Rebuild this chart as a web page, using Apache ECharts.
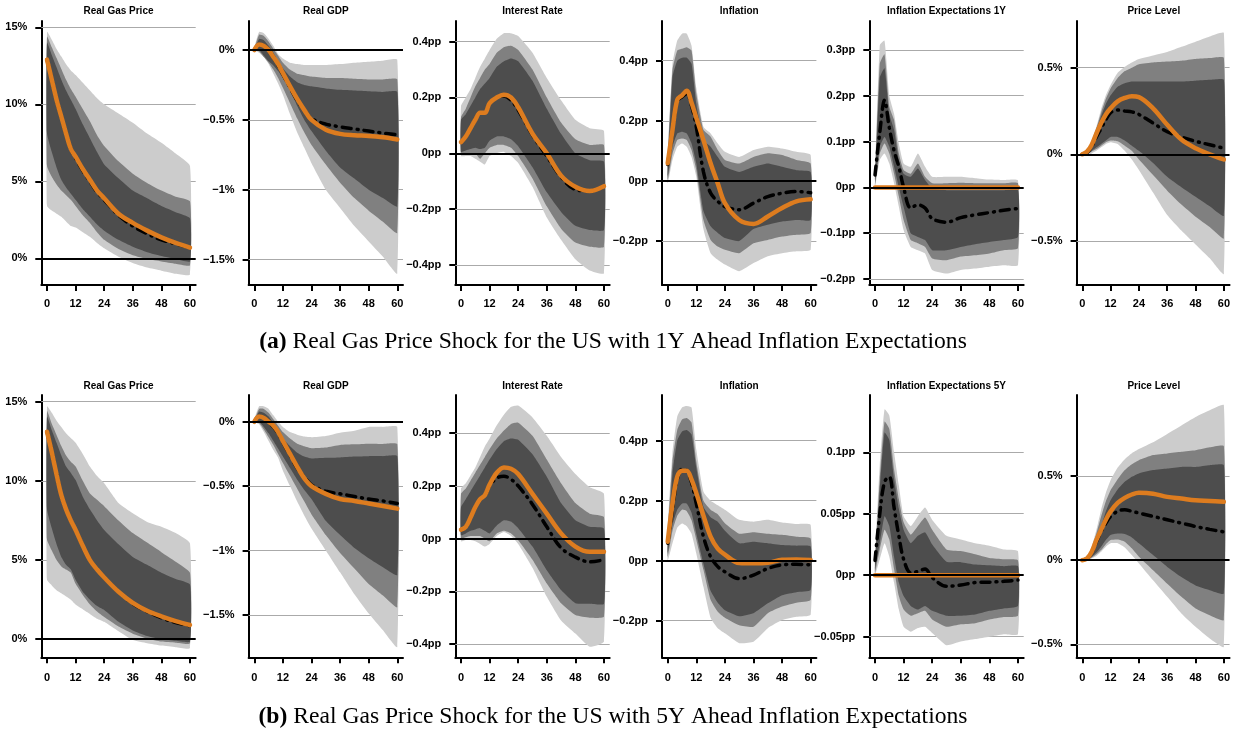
<!DOCTYPE html>
<html><head><meta charset="utf-8">
<script src="https://cdn.jsdelivr.net/npm/echarts@6/dist/echarts.min.js"></script>
<style>html,body{margin:0;padding:0;background:#fff}#c{width:1233px;height:730px}</style>
</head><body><div id="c"></div>
<script>
// ---------- shared ----------
const MONTHS = [0,2,4,6,8,10,12,15,18,21,24,30,36,42,48,54,60];
const X_TICKS = [0,12,24,36,48,60];
const TITLES_A = ['Real Gas Price','Real GDP','Interest Rate','Inflation','Inflation Expectations 1Y','Price Level'];
const TITLES_B = ['Real Gas Price','Real GDP','Interest Rate','Inflation','Inflation Expectations 5Y','Price Level'];
const CAPTION_A = 'Real Gas Price Shock for the US with 1Y Ahead Inflation Expectations';
const CAPTION_B = 'Real Gas Price Shock for the US with 5Y Ahead Inflation Expectations';

// ---------- tick values / labels ----------
const GAS_TICKS = [0,5,10,15];           const GAS_LABELS = ['0%','5%','10%','15%'];
const GDP_TICKS = [-1.5,-1,-0.5,0];      const GDP_LABELS = ['\u22121.5%','\u22121%','\u22120.5%','0%'];
const RATE_TICKS = [-0.4,-0.2,0,0.2,0.4];const RATE_LABELS = ['\u22120.4pp','\u22120.2pp','0pp','0.2pp','0.4pp'];
const INF_TICKS = [-0.2,0,0.2,0.4];      const INF_LABELS = ['\u22120.2pp','0pp','0.2pp','0.4pp'];
const EXP1_TICKS = [-0.2,-0.1,0,0.1,0.2,0.3]; const EXP1_LABELS = ['\u22120.2pp','\u22120.1pp','0pp','0.1pp','0.2pp','0.3pp'];
const EXP5_TICKS = [-0.05,0,0.05,0.1];   const EXP5_LABELS = ['\u22120.05pp','0pp','0.05pp','0.1pp'];
const PL_TICKS = [-0.5,0,0.5];           const PL_LABELS = ['\u22120.5%','0%','0.5%'];

// ---------- (a) 1Y ----------
const A1_orange = [12.9,11.6,10.3,9.2,8.1,7.1,6.6,5.8,5.1,4.4,3.9,2.9,2.3,1.8,1.36,1.0,0.7];
const A1_black  = [12.9,11.6,10.3,9.2,8.1,7.1,6.5,5.7,5.0,4.3,3.8,2.8,2.1,1.6,1.2,0.95,0.7];
const A1_lightHi= [14.7,14.2,13.6,13.1,12.6,12.2,11.9,11.4,10.9,10.4,10.0,9.4,8.8,8.1,7.5,6.8,6.0];
const A1_medHi  = [14.4,13.7,13.0,12.3,11.6,11.0,10.5,9.7,8.9,8.0,7.3,6.3,5.5,4.9,4.4,4.0,3.7];
const A1_darkHi = [14.0,13.2,12.4,11.6,10.9,10.3,9.7,8.7,7.8,6.9,6.1,5.2,4.4,3.9,3.4,3.0,2.6];
const A1_darkLo = [8.1,6.9,5.9,5.1,4.6,4.2,3.8,3.2,2.7,2.2,1.8,1.2,0.75,0.4,0.15,-0.05,-0.2];
const A1_medLo  = [6.0,5.3,4.8,4.4,4.1,3.8,3.4,2.8,2.3,1.7,1.2,0.6,0.2,-0.05,-0.2,-0.35,-0.45];
const A1_lightLo= [3.4,3.1,2.9,2.7,2.4,2.1,2.0,1.7,1.4,1.0,0.65,0.1,-0.3,-0.6,-0.8,-1.0,-1.05];

const A2_orange = [0,0.04,0.03,0.0,-0.05,-0.1,-0.165,-0.26,-0.35,-0.43,-0.5,-0.57,-0.6,-0.61,-0.615,-0.625,-0.64];
const A2_black  = [0,0.04,0.03,0.0,-0.05,-0.11,-0.175,-0.27,-0.36,-0.43,-0.49,-0.53,-0.55,-0.565,-0.58,-0.595,-0.607];
const A2_lightHi= [0.02,0.13,0.12,0.08,0.03,-0.03,-0.06,-0.09,-0.1,-0.107,-0.107,-0.107,-0.1,-0.09,-0.083,-0.076,-0.07];
const A2_medHi  = [0.01,0.11,0.1,0.06,0.01,-0.04,-0.09,-0.14,-0.17,-0.18,-0.19,-0.2,-0.2,-0.205,-0.21,-0.21,-0.21];
const A2_darkHi = [0.0,0.08,0.07,0.03,-0.02,-0.08,-0.13,-0.19,-0.23,-0.25,-0.26,-0.275,-0.285,-0.29,-0.295,-0.3,-0.3];
const A2_darkLo = [0.0,0.0,-0.04,-0.08,-0.11,-0.15,-0.2,-0.29,-0.4,-0.5,-0.58,-0.72,-0.84,-0.92,-1.0,-1.06,-1.12];
const A2_medLo  = [0.0,-0.01,-0.05,-0.09,-0.14,-0.2,-0.27,-0.38,-0.49,-0.59,-0.68,-0.82,-0.95,-1.06,-1.15,-1.23,-1.31];
const A2_lightLo= [0.0,-0.02,-0.05,-0.1,-0.17,-0.24,-0.32,-0.46,-0.59,-0.7,-0.81,-1.0,-1.13,-1.26,-1.37,-1.48,-1.6];

const A3_orange = [0.04,0.06,0.09,0.12,0.145,0.145,0.18,0.2,0.21,0.2,0.165,0.07,0.0,-0.08,-0.12,-0.135,-0.118];
const A3_black  = [0.04,0.06,0.09,0.12,0.145,0.145,0.18,0.2,0.205,0.19,0.155,0.065,-0.01,-0.085,-0.13,-0.135,-0.12];
const A3_lightHi= [0.17,0.2,0.23,0.27,0.31,0.34,0.37,0.41,0.43,0.43,0.42,0.36,0.27,0.19,0.12,0.09,0.08];
const A3_medHi  = [0.13,0.16,0.2,0.24,0.27,0.3,0.32,0.36,0.38,0.385,0.37,0.3,0.2,0.11,0.05,0.03,0.03];
const A3_darkHi = [0.12,0.14,0.17,0.2,0.23,0.25,0.27,0.31,0.33,0.34,0.33,0.26,0.16,0.07,0.0,-0.025,-0.03];
const A3_darkLo = [0.005,0.01,0.015,0.02,0.015,0.02,0.045,0.06,0.06,0.05,0.025,-0.05,-0.14,-0.21,-0.26,-0.275,-0.275];
const A3_medLo  = [-0.005,0.0,0.0,0.0,-0.02,0.0,0.02,0.03,0.03,0.02,-0.01,-0.09,-0.19,-0.27,-0.32,-0.335,-0.335];
const A3_lightLo= [-0.01,-0.01,-0.01,-0.02,-0.03,-0.04,-0.01,0.0,0.005,-0.01,-0.035,-0.12,-0.23,-0.31,-0.38,-0.42,-0.43];

const A4_orange = [0.059,0.17,0.27,0.285,0.3,0.26,0.21,0.136,0.059,-0.008,-0.074,-0.13,-0.143,-0.118,-0.09,-0.068,-0.061];
const A4_black  = [0.055,0.165,0.265,0.28,0.29,0.25,0.18,0.03,-0.04,-0.068,-0.085,-0.096,-0.074,-0.052,-0.041,-0.035,-0.039];
const A4_lightHi= [0.09,0.39,0.467,0.49,0.49,0.45,0.31,0.18,0.158,0.125,0.097,0.08,0.103,0.114,0.108,0.097,0.086];
const A4_medHi  = [0.07,0.37,0.434,0.44,0.445,0.434,0.29,0.17,0.147,0.103,0.07,0.058,0.08,0.092,0.086,0.07,0.058];
const A4_darkHi = [0.036,0.346,0.4,0.41,0.41,0.39,0.257,0.136,0.114,0.08,0.047,0.03,0.047,0.058,0.047,0.036,0.03];
const A4_darkLo = [0.014,0.114,0.158,0.164,0.158,0.125,0.058,-0.1,-0.151,-0.173,-0.19,-0.2,-0.16,-0.146,-0.135,-0.13,-0.13];
const A4_medLo  = [0.003,0.09,0.136,0.141,0.136,0.103,0.036,-0.13,-0.196,-0.218,-0.229,-0.24,-0.207,-0.196,-0.185,-0.179,-0.173];
const A4_lightLo= [-0.008,0.07,0.114,0.125,0.114,0.08,0.014,-0.16,-0.24,-0.262,-0.278,-0.3,-0.273,-0.25,-0.24,-0.234,-0.229];

const A5_orange = [0,0,0,0,0,0,0,0,0,0,0,0,0,0,0,0,0];
const A5_black  = [0.027,0.12,0.19,0.13,0.08,0.045,0.0,-0.045,-0.038,-0.045,-0.068,-0.076,-0.066,-0.06,-0.055,-0.05,-0.046];
const A5_lightHi= [0.023,0.31,0.32,0.2,0.16,0.096,0.052,0.045,0.074,0.045,0.023,0.023,0.023,0.02,0.017,0.016,0.015];
const A5_medHi  = [0.015,0.27,0.29,0.176,0.147,0.074,0.038,0.03,0.052,0.023,0.009,0.009,0.01,0.009,0.009,0.009,0.009];
const A5_darkHi = [0.01,0.24,0.26,0.16,0.125,0.06,0.03,0.023,0.041,0.016,-0.002,-0.006,-0.006,-0.006,-0.006,-0.006,-0.006];
const A5_darkLo = [0.009,0.089,0.11,0.089,0.045,0.0,-0.042,-0.1,-0.108,-0.115,-0.137,-0.137,-0.13,-0.124,-0.119,-0.115,-0.108];
const A5_medLo  = [0.005,0.074,0.096,0.074,0.03,-0.02,-0.071,-0.115,-0.122,-0.13,-0.155,-0.159,-0.151,-0.148,-0.144,-0.137,-0.133];
const A5_lightLo= [0.0,0.06,0.074,0.052,0.009,-0.042,-0.093,-0.13,-0.137,-0.144,-0.18,-0.188,-0.18,-0.177,-0.173,-0.17,-0.17];

const A6_orange = [0,0.015,0.055,0.12,0.18,0.23,0.265,0.305,0.325,0.335,0.33,0.265,0.17,0.085,0.035,0.0,-0.03];
const A6_black  = [0,0.01,0.045,0.1,0.15,0.2,0.24,0.255,0.25,0.245,0.23,0.18,0.13,0.1,0.075,0.055,0.035];
const A6_lightHi= [0,0.02,0.08,0.16,0.26,0.34,0.4,0.47,0.505,0.53,0.55,0.57,0.59,0.62,0.65,0.68,0.7];
const A6_medHi  = [0,0.02,0.07,0.15,0.24,0.32,0.38,0.44,0.48,0.5,0.52,0.53,0.535,0.54,0.55,0.555,0.557];
const A6_darkHi = [0,0.015,0.06,0.14,0.22,0.29,0.34,0.39,0.41,0.42,0.42,0.42,0.42,0.42,0.425,0.43,0.43];
const A6_darkLo = [0,0.0,0.02,0.04,0.06,0.08,0.1,0.1,0.08,0.05,0.02,-0.05,-0.13,-0.19,-0.245,-0.3,-0.355];
const A6_medLo  = [0,0.0,0.015,0.03,0.05,0.07,0.08,0.075,0.05,0.02,-0.03,-0.12,-0.21,-0.29,-0.36,-0.42,-0.485];
const A6_lightLo= [0,-0.005,0.005,0.02,0.04,0.06,0.07,0.06,0.02,-0.03,-0.09,-0.22,-0.35,-0.44,-0.52,-0.6,-0.69];

// ---------- (b) 5Y ----------
const B1_orange = [13.1,11.8,10.4,9.1,8.2,7.5,6.9,5.9,5.0,4.4,3.9,3.0,2.3,1.8,1.45,1.15,0.9];
const B1_black  = [13.1,11.8,10.4,9.1,8.2,7.5,6.9,5.9,5.0,4.4,3.9,3.0,2.25,1.75,1.35,1.05,0.85];
const B1_lightHi= [14.7,14.3,13.8,13.4,13.0,12.7,12.4,11.7,10.9,10.3,9.85,8.6,7.95,7.4,7.1,6.7,6.05];
const B1_medHi  = [14.4,13.6,12.9,12.2,11.6,11.2,10.9,10.0,9.2,8.8,8.4,7.5,6.7,6.1,5.5,4.9,4.2];
const B1_darkHi = [14.05,13.2,12.4,11.6,10.9,10.5,10.05,9.0,8.2,7.5,6.9,6.0,5.2,4.7,4.2,3.8,3.45];
const B1_darkLo = [8.2,7.0,6.0,5.2,4.7,4.4,3.75,3.0,2.5,2.1,1.85,1.1,0.55,0.2,0.0,-0.1,-0.15];
const B1_medLo  = [6.3,5.6,5.0,4.6,4.4,4.2,3.5,2.8,2.2,1.75,1.4,0.8,0.35,0.05,-0.15,-0.22,-0.25];
const B1_lightLo= [3.75,3.4,3.1,2.9,2.7,2.5,2.2,1.9,1.6,1.3,1.1,0.5,-0.05,-0.25,-0.4,-0.5,-0.55];

const B2_orange = [0,0.04,0.03,0.0,-0.03,-0.08,-0.15,-0.25,-0.35,-0.44,-0.5,-0.56,-0.6,-0.615,-0.635,-0.655,-0.675];
const B2_black  = [0,0.04,0.03,0.0,-0.04,-0.09,-0.16,-0.26,-0.36,-0.43,-0.49,-0.54,-0.56,-0.58,-0.6,-0.615,-0.635];
const B2_lightHi= [0.02,0.12,0.12,0.1,0.05,0.0,-0.04,-0.08,-0.1,-0.115,-0.12,-0.11,-0.085,-0.07,-0.04,-0.04,-0.04];
const B2_medHi  = [0.01,0.1,0.1,0.07,0.02,-0.03,-0.08,-0.13,-0.17,-0.19,-0.205,-0.2,-0.18,-0.175,-0.17,-0.172,-0.175];
const B2_darkHi = [0.0,0.08,0.07,0.04,-0.01,-0.07,-0.13,-0.19,-0.24,-0.27,-0.285,-0.28,-0.277,-0.27,-0.267,-0.267,-0.267];
const B2_darkLo = [0.0,0.0,-0.04,-0.09,-0.15,-0.21,-0.27,-0.36,-0.45,-0.53,-0.6,-0.77,-0.88,-0.98,-1.06,-1.13,-1.19];
const B2_medLo  = [0.0,-0.01,-0.06,-0.12,-0.18,-0.25,-0.32,-0.42,-0.52,-0.62,-0.72,-0.88,-1.02,-1.14,-1.26,-1.35,-1.44];
const B2_lightLo= [0.0,-0.02,-0.08,-0.15,-0.22,-0.28,-0.38,-0.5,-0.62,-0.73,-0.83,-1.0,-1.17,-1.34,-1.49,-1.62,-1.75];

const B3_orange = [0.034,0.045,0.08,0.12,0.15,0.165,0.205,0.25,0.27,0.265,0.245,0.17,0.095,0.02,-0.03,-0.05,-0.05];
const B3_black  = [0.034,0.045,0.08,0.12,0.15,0.165,0.2,0.23,0.237,0.225,0.2,0.13,0.045,-0.035,-0.07,-0.088,-0.08];
const B3_lightHi= [0.19,0.21,0.24,0.27,0.31,0.35,0.38,0.43,0.47,0.5,0.505,0.46,0.39,0.31,0.245,0.195,0.17];
const B3_medHi  = [0.17,0.19,0.22,0.25,0.28,0.31,0.34,0.38,0.41,0.435,0.44,0.39,0.3,0.21,0.135,0.095,0.082];
const B3_darkHi = [0.12,0.15,0.18,0.21,0.24,0.27,0.3,0.34,0.37,0.38,0.375,0.32,0.235,0.135,0.07,0.045,0.038];
const B3_darkLo = [0.013,0.02,0.03,0.035,0.04,0.03,0.02,0.05,0.07,0.065,0.04,-0.03,-0.12,-0.195,-0.245,-0.247,-0.247];
const B3_medLo  = [0.0,0.005,0.01,0.01,0.01,0.0,-0.01,0.02,0.03,0.02,-0.006,-0.08,-0.17,-0.245,-0.29,-0.3,-0.295];
const B3_lightLo= [-0.01,-0.005,-0.005,-0.01,-0.02,-0.03,-0.02,0.01,0.025,0.01,-0.02,-0.11,-0.22,-0.31,-0.36,-0.41,-0.39];

const B4_orange = [0.063,0.19,0.28,0.3,0.3,0.27,0.225,0.15,0.08,0.04,0.02,-0.008,-0.009,-0.007,0.003,0.004,0.002];
const B4_black  = [0.058,0.17,0.27,0.305,0.3,0.26,0.19,0.08,0.013,-0.02,-0.037,-0.06,-0.048,-0.026,-0.014,-0.012,-0.014];
const B4_lightHi= [0.11,0.36,0.48,0.51,0.515,0.51,0.37,0.23,0.2,0.185,0.17,0.136,0.13,0.136,0.127,0.122,0.119];
const B4_medHi  = [0.09,0.33,0.435,0.47,0.475,0.46,0.33,0.2,0.17,0.155,0.125,0.09,0.095,0.09,0.086,0.08,0.074];
const B4_darkHi = [0.047,0.29,0.4,0.43,0.435,0.42,0.31,0.18,0.145,0.13,0.1,0.058,0.063,0.058,0.052,0.05,0.047];
const B4_darkLo = [0.024,0.12,0.17,0.19,0.19,0.16,0.09,-0.01,-0.1,-0.14,-0.165,-0.185,-0.175,-0.142,-0.115,-0.105,-0.098];
const B4_medLo  = [0.013,0.1,0.15,0.17,0.165,0.135,0.07,-0.03,-0.13,-0.17,-0.19,-0.215,-0.22,-0.175,-0.153,-0.14,-0.13];
const B4_lightLo= [0.0,0.058,0.11,0.124,0.115,0.09,0.024,-0.087,-0.19,-0.225,-0.242,-0.275,-0.27,-0.225,-0.198,-0.187,-0.18];

const B5_orange = [0,0,0,0,0,0,0,0,0,0,0,0,0,0,0,0,0];
const B5_black  = [0.012,0.05,0.076,0.08,0.055,0.032,0.013,0.002,0.003,0.005,-0.002,-0.009,-0.008,-0.006,-0.0057,-0.005,-0.004];
const B5_lightHi= [0.015,0.09,0.135,0.13,0.1,0.073,0.048,0.04,0.048,0.055,0.045,0.032,0.029,0.026,0.024,0.021,0.0196];
const B5_medHi  = [0.012,0.078,0.125,0.119,0.086,0.062,0.043,0.033,0.04,0.047,0.037,0.021,0.0196,0.017,0.014,0.013,0.012];
const B5_darkHi = [0.008,0.07,0.116,0.11,0.078,0.054,0.037,0.026,0.032,0.035,0.025,0.011,0.0106,0.0087,0.008,0.0073,0.0073];
const B5_darkLo = [0.005,0.026,0.048,0.04,0.015,-0.006,-0.017,-0.025,-0.028,-0.025,-0.029,-0.033,-0.033,-0.032,-0.029,-0.027,-0.025];
const B5_medLo  = [0.002,0.021,0.037,0.029,0.005,-0.017,-0.028,-0.033,-0.031,-0.029,-0.036,-0.042,-0.04,-0.039,-0.036,-0.034,-0.033];
const B5_lightLo= [0.0,0.013,0.026,0.015,-0.006,-0.028,-0.042,-0.046,-0.043,-0.042,-0.047,-0.057,-0.054,-0.052,-0.05,-0.048,-0.048];

const B6_orange = [0,0.01,0.05,0.12,0.18,0.24,0.29,0.34,0.37,0.39,0.4,0.395,0.376,0.366,0.356,0.352,0.347];
const B6_black  = [0,0.01,0.045,0.11,0.17,0.22,0.26,0.29,0.3,0.29,0.28,0.26,0.24,0.22,0.2,0.183,0.168];
const B6_lightHi= [0,0.02,0.08,0.18,0.3,0.4,0.475,0.55,0.6,0.635,0.66,0.7,0.75,0.8,0.85,0.89,0.92];
const B6_medHi  = [0,0.015,0.07,0.16,0.26,0.35,0.415,0.48,0.535,0.57,0.594,0.624,0.634,0.644,0.653,0.67,0.677];
const B6_darkHi = [0,0.01,0.06,0.13,0.2,0.29,0.356,0.42,0.465,0.495,0.515,0.535,0.545,0.554,0.554,0.564,0.564];
const B6_darkLo = [0,0.005,0.02,0.045,0.08,0.12,0.15,0.158,0.155,0.135,0.1,0.03,-0.04,-0.1,-0.15,-0.178,-0.198];
const B6_medLo  = [0,0.003,0.015,0.035,0.06,0.095,0.12,0.123,0.11,0.07,0.02,-0.06,-0.14,-0.218,-0.287,-0.327,-0.356];
const B6_lightLo= [0,0.0,0.01,0.025,0.05,0.08,0.1,0.1,0.075,0.03,-0.02,-0.12,-0.218,-0.317,-0.396,-0.465,-0.515];

// ---------- panel table (built from the arrays) ----------
const PANELS = [
  {row:0,col:0,title:TITLES_A[0],min:-1.73,max:15.41,ticks:GAS_TICKS,labels:GAS_LABELS,bands:[[A1_lightLo,A1_lightHi],[A1_medLo,A1_medHi],[A1_darkLo,A1_darkHi]],black:A1_black,orange:A1_orange},
  {row:0,col:1,title:TITLES_A[1],min:-1.682,max:0.208,ticks:GDP_TICKS,labels:GDP_LABELS,bands:[[A2_lightLo,A2_lightHi],[A2_medLo,A2_medHi],[A2_darkLo,A2_darkHi]],black:A2_black,orange:A2_orange},
  {row:0,col:2,title:TITLES_A[2],min:-0.472,max:0.474,ticks:RATE_TICKS,labels:RATE_LABELS,bands:[[A3_lightLo,A3_lightHi],[A3_medLo,A3_medHi],[A3_darkLo,A3_darkHi]],black:A3_black,orange:A3_orange},
  {row:0,col:3,title:TITLES_A[3],min:-0.346,max:0.532,ticks:INF_TICKS,labels:INF_LABELS,bands:[[A4_lightLo,A4_lightHi],[A4_medLo,A4_medHi],[A4_darkLo,A4_darkHi]],black:A4_black,orange:A4_orange},
  {row:0,col:4,title:TITLES_A[4],min:-0.213,max:0.363,ticks:EXP1_TICKS,labels:EXP1_LABELS,bands:[[A5_lightLo,A5_lightHi],[A5_medLo,A5_medHi],[A5_darkLo,A5_darkHi]],black:A5_black,orange:A5_orange},
  {row:0,col:5,title:TITLES_A[5],min:-0.754,max:0.769,ticks:PL_TICKS,labels:PL_LABELS,bands:[[A6_lightLo,A6_lightHi],[A6_medLo,A6_medHi],[A6_darkLo,A6_darkHi]],black:A6_black,orange:A6_orange},
  {row:1,col:0,title:TITLES_B[0],min:-1.14,max:15.42,ticks:GAS_TICKS,labels:GAS_LABELS,bands:[[B1_lightLo,B1_lightHi],[B1_medLo,B1_medHi],[B1_darkLo,B1_darkHi]],black:B1_black,orange:B1_orange},
  {row:1,col:1,title:TITLES_B[1],min:-1.83,max:0.208,ticks:GDP_TICKS,labels:GDP_LABELS,bands:[[B2_lightLo,B2_lightHi],[B2_medLo,B2_medHi],[B2_darkLo,B2_darkHi]],black:B2_black,orange:B2_orange},
  {row:1,col:2,title:TITLES_B[2],min:-0.45,max:0.545,ticks:RATE_TICKS,labels:RATE_LABELS,bands:[[B3_lightLo,B3_lightHi],[B3_medLo,B3_medHi],[B3_darkLo,B3_darkHi]],black:B3_black,orange:B3_orange},
  {row:1,col:3,title:TITLES_B[3],min:-0.322,max:0.552,ticks:INF_TICKS,labels:INF_LABELS,bands:[[B4_lightLo,B4_lightHi],[B4_medLo,B4_medHi],[B4_darkLo,B4_darkHi]],black:B4_black,orange:B4_orange},
  {row:1,col:4,title:TITLES_B[4],min:-0.0668,max:0.1466,ticks:EXP5_TICKS,labels:EXP5_LABELS,bands:[[B5_lightLo,B5_lightHi],[B5_medLo,B5_medHi],[B5_darkLo,B5_darkHi]],black:B5_black,orange:B5_orange},
  {row:1,col:5,title:TITLES_B[5],min:-0.577,max:0.981,ticks:PL_TICKS,labels:PL_LABELS,bands:[[B6_lightLo,B6_lightHi],[B6_medLo,B6_medHi],[B6_darkLo,B6_darkHi]],black:B6_black,orange:B6_orange}
];

const LEFTS = [41.3,248.6,455.3,662,869.3,1076.6];
const W = 154.4;
const ROWS = [{top:21,h:264,titleTop:5,xMargin:13},{top:395,h:262.3,titleTop:380,xMargin:15}];
const BAND_COLORS = ['#cccccc','#808080','#4d4d4d'];
const FONT = 'Liberation Sans';

const grids=[], xAxes=[], yAxes=[], series=[], titles=[];
PANELS.forEach((p,i)=>{
  const row = ROWS[p.row], left = LEFTS[p.col];
  grids.push({left:left, top:row.top, width:W, height:row.h, containLabel:false});
  xAxes.push({type:'value', gridIndex:i, min:-2.4, max:62.4,
    axisLine:{show:true,onZero:false,lineStyle:{color:'#000',width:2}},
    axisTick:{show:true,customValues:X_TICKS,length:6,lineStyle:{color:'#000',width:2}},
    axisLabel:{show:true,customValues:X_TICKS,margin:row.xMargin,color:'#000',fontSize:11,fontWeight:'bold',fontFamily:FONT},
    splitLine:{show:false}});
  yAxes.push({type:'value', gridIndex:i, min:p.min, max:p.max,
    axisLine:{show:true,onZero:false,lineStyle:{color:'#000',width:2}},
    axisTick:{show:true,customValues:p.ticks,length:6,lineStyle:{color:'#000',width:2}},
    axisLabel:{show:true,customValues:p.ticks,margin:14,color:'#000',fontSize:11,fontWeight:'bold',fontFamily:FONT,
      formatter:(v)=>{const k=p.ticks.findIndex(t=>Math.abs(t-v)<1e-9);return k>=0?p.labels[k]:'';}},
    splitLine:{show:false}});
  titles.push({text:p.title,left:left+W/2,top:row.titleTop,textAlign:'center',padding:0,
    textStyle:{fontSize:10,fontWeight:'bold',fontFamily:FONT,color:'#000',lineHeight:12}});

  p.bands.forEach((b,k)=>{
    const lo=b[0], hi=b[1];
    series.push({type:'custom', xAxisIndex:i, yAxisIndex:i, z:2, silent:true, clip:true,
      data: MONTHS.map((m,j)=>[m,lo[j],hi[j]]),
      renderItem:(params,api)=>{
        if(params.dataIndex!==0) return null;
        const pts=[];
        for(let j=0;j<MONTHS.length;j++) pts.push(api.coord([MONTHS[j],hi[j]]));
        for(let j=MONTHS.length-1;j>=0;j--) pts.push(api.coord([MONTHS[j],lo[j]]));
        return {type:'polygon', z2:k, shape:{points:pts, smooth:0.15}, style:{fill:BAND_COLORS[k]}};
      }});
  });
  const gridVals = p.ticks.filter(t=>t!==0);
  series.push({type:'line', xAxisIndex:i, yAxisIndex:i, z:3, silent:true, showSymbol:false, smooth:0.35,
    data: MONTHS.map((m,j)=>[m,p.black[j]]),
    lineStyle:{color:'#000',width:3.5,type:[9,6,1,6],cap:'round'},
    markLine:{silent:true, z:1, symbol:['none','none'], label:{show:false}, animation:false,
      lineStyle:{color:'#aaaaaa',width:1,type:'solid'}, data: gridVals.map(v=>({yAxis:v}))}});
  series.push({type:'line', xAxisIndex:i, yAxisIndex:i, z:4, silent:true, showSymbol:false, smooth:0.35,
    data: MONTHS.map((m,j)=>[m,p.orange[j]]),
    lineStyle:{color:'#dd7c1f',width:4.5,cap:'round'},
    markLine:{silent:true, z:10, symbol:['none','none'], label:{show:false}, animation:false,
      lineStyle:{color:'#000',width:2,type:'solid'}, data:[{yAxis:0}]}});
});

const CAP_SIZE = 23.6;
const capStyle = {fontFamily:'Liberation Serif',fontSize:CAP_SIZE,color:'#000',fontWeight:'normal',lineHeight:26,
  rich:{b:{fontFamily:'Liberation Serif',fontSize:CAP_SIZE,fontWeight:'bold',color:'#000',lineHeight:26},
        n:{fontFamily:'Liberation Serif',fontSize:CAP_SIZE,fontWeight:'normal',color:'#000',lineHeight:26}}};
titles.push({text:'{b|(a)}{n| '+CAPTION_A+'}',left:613,top:329,textAlign:'center',padding:0,textStyle:capStyle});
titles.push({text:'{b|(b)}{n| '+CAPTION_B+'}',left:613,top:704,textAlign:'center',padding:0,textStyle:capStyle});

const chart = echarts.init(document.getElementById('c'), null, {renderer:'canvas'});
chart.setOption({animation:false, backgroundColor:'#fff', textStyle:{fontFamily:FONT},
  title:titles, grid:grids, xAxis:xAxes, yAxis:yAxes, series:series});
</script></body></html>
